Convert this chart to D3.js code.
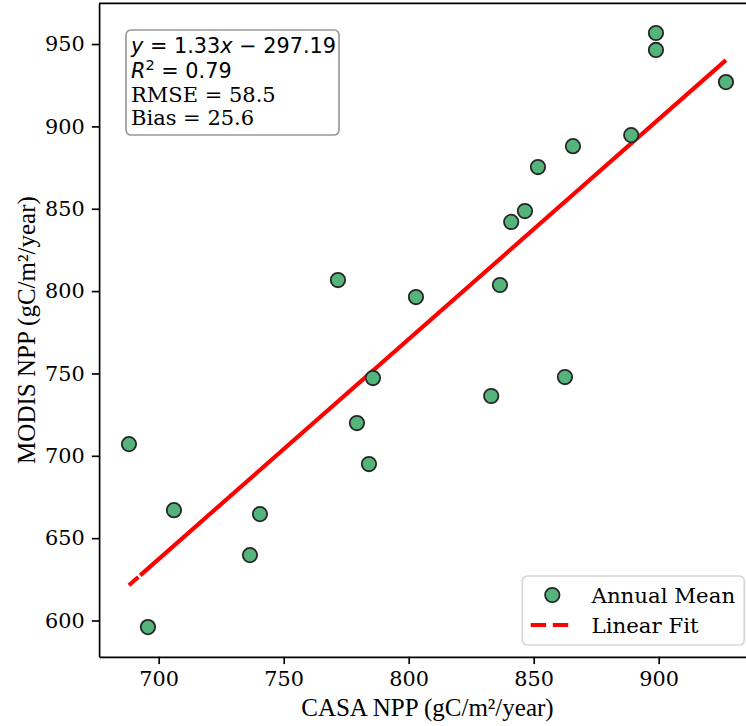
<!DOCTYPE html>
<html>
<head>
<meta charset="utf-8">
<script src="https://cdn.jsdelivr.net/npm/d3@7"></script>
<style>
  body { margin: 0; background: #fff; }
  svg { display: block; }
</style>
</head>
<body>
<svg id="chart" width="746" height="726"></svg>
<script>
// annual means, CASA (x) vs MODIS (y), gC/m2/year
const casaNPP  = [688.1, 695.7, 706.1, 736.5, 740.5, 771.7, 779.3, 784.1, 785.7, 802.9, 833.0,
                  836.5, 841.0, 846.5, 851.7, 862.5, 865.7, 889.0, 898.9, 898.9, 926.9];
const modisNPP = [707.1, 596.0, 667.0, 639.7, 664.6, 806.7, 719.9, 695.0, 747.2, 796.4, 736.3,
                  803.7, 842.0, 848.6, 875.3, 747.8, 888.0, 894.7, 956.7, 946.4, 926.9];
const fitSlope = 1.335;
const fitIntercept = -297.19;
const xTicks = [700, 750, 800, 850, 900];
const yTicks = [600, 650, 700, 750, 800, 850, 900, 950];
const statLines = ["RMSE = 58.5", "Bias = 25.6"];
const legendLabels = ["Annual Mean", "Linear Fit"];

const margin = {left: 99.1, top: 3.3},
      width = 656.7,
      height = 653.5;
const serif = "'DejaVu Serif', serif",
      times = "'Liberation Serif', 'Times New Roman', serif",
      sans = "'DejaVu Sans', sans-serif";
const green = "#54b47c", edge = "#262626";

const svg = d3.select("#chart");
const g = svg.append("g").attr("transform", `translate(${margin.left},${margin.top})`);

function padded(vals) {
    let [lo, hi] = d3.extent(vals), p = (hi - lo) * 0.05;
    return [lo - p, hi + p];
}
const x = d3.scaleLinear().domain(padded(casaNPP)).range([0, width]);
const y = d3.scaleLinear().domain(padded(modisNPP)).range([height, 0]);

// axes
const xAxis = g.append("g").attr("transform", `translate(0,${height})`)
    .call(d3.axisBottom(x).tickValues(xTicks).tickSize(7.3).tickSizeOuter(0).tickPadding(7));
const yAxis = g.append("g")
    .call(d3.axisLeft(y).tickValues(yTicks).tickSize(7.3).tickSizeOuter(0).tickPadding(7));
[xAxis, yAxis].forEach(a => {
    a.selectAll("path, line").attr("stroke", "#000").attr("stroke-width", 1.67);
    a.selectAll("text").attr("font-family", serif).attr("font-size", 20.8).attr("fill", "#000");
});
g.append("line").attr("x1", 0).attr("x2", width).attr("y1", 0).attr("y2", 0)
    .attr("stroke", "#000").attr("stroke-width", 1.67);

// fit line
const xr = d3.extent(casaNPP);
g.append("line")
    .attr("x1", x(xr[0])).attr("y1", y(fitSlope * xr[0] + fitIntercept))
    .attr("x2", x(xr[1])).attr("y2", y(fitSlope * xr[1] + fitIntercept))
    .attr("stroke", "red").attr("stroke-width", 4.17)
    .attr("stroke-dasharray", "12.5,2.5,5000");

// points
g.selectAll("circle.pt").data(casaNPP).enter().append("circle")
    .attr("class", "pt")
    .attr("cx", d => x(d))
    .attr("cy", (d, i) => y(modisNPP[i]))
    .attr("r", 7.2)
    .attr("fill", green)
    .attr("stroke", edge)
    .attr("stroke-width", 1.8);

// axis labels
svg.append("text").attr("x", margin.left + width / 2).attr("y", 716)
    .attr("text-anchor", "middle").attr("font-family", times).attr("font-size", 25)
    .text("CASA NPP (gC/m²/year)");
svg.append("text").attr("transform", `translate(35,${margin.top + height / 2}) rotate(-90)`)
    .attr("text-anchor", "middle").attr("font-family", times).attr("font-size", 25)
    .text("MODIS NPP (gC/m²/year)");

// stats box
const box = svg.append("g");
box.append("rect").attr("x", 126).attr("y", 30).attr("width", 213).attr("height", 105)
    .attr("rx", 5).attr("fill", "#fff").attr("stroke", "#999").attr("stroke-width", 1.67);
const l1 = box.append("text").attr("x", 131).attr("y", 53)
    .attr("font-family", sans).attr("font-size", 20.8);
l1.append("tspan").attr("font-style", "italic").text("y");
l1.append("tspan").text(" = 1.33");
l1.append("tspan").attr("font-style", "italic").text("x");
l1.append("tspan").text(" \u2212 " + (-fitIntercept).toFixed(2));
const l2 = box.append("text").attr("x", 131).attr("y", 78)
    .attr("font-family", sans).attr("font-size", 20.8);
l2.append("tspan").attr("font-style", "italic").text("R");
l2.append("tspan").attr("font-size", 14.5).attr("dy", -8).text("2");
l2.append("tspan").attr("dy", 8).text(" = 0.79");
box.selectAll("text.stat").data(statLines).enter().append("text")
    .attr("class", "stat")
    .attr("x", 131).attr("y", (d, i) => 101.5 + i * 23.5)
    .attr("font-family", serif).attr("font-size", 21)
    .text(d => d);

// legend
const leg = svg.append("g");
leg.append("rect").attr("x", 522.3).attr("y", 576).attr("width", 222).attr("height", 69)
    .attr("rx", 5).attr("fill", "#fff").attr("stroke", "#d6d6d6").attr("stroke-width", 1.67);
leg.append("circle").attr("cx", 552.3).attr("cy", 595).attr("r", 7.2)
    .attr("fill", green).attr("stroke", edge).attr("stroke-width", 1.8);
leg.append("line").attr("x1", 530.7).attr("x2", 573.3).attr("y1", 625).attr("y2", 625)
    .attr("stroke", "red").attr("stroke-width", 4.17).attr("stroke-dasharray", "15.4,6.7");
leg.selectAll("text").data(legendLabels).enter().append("text")
    .attr("x", 591.5).attr("y", (d, i) => 602.5 + i * 30)
    .attr("font-family", serif).attr("font-size", 21.3)
    .text(d => d);
</script>
</body>
</html>
